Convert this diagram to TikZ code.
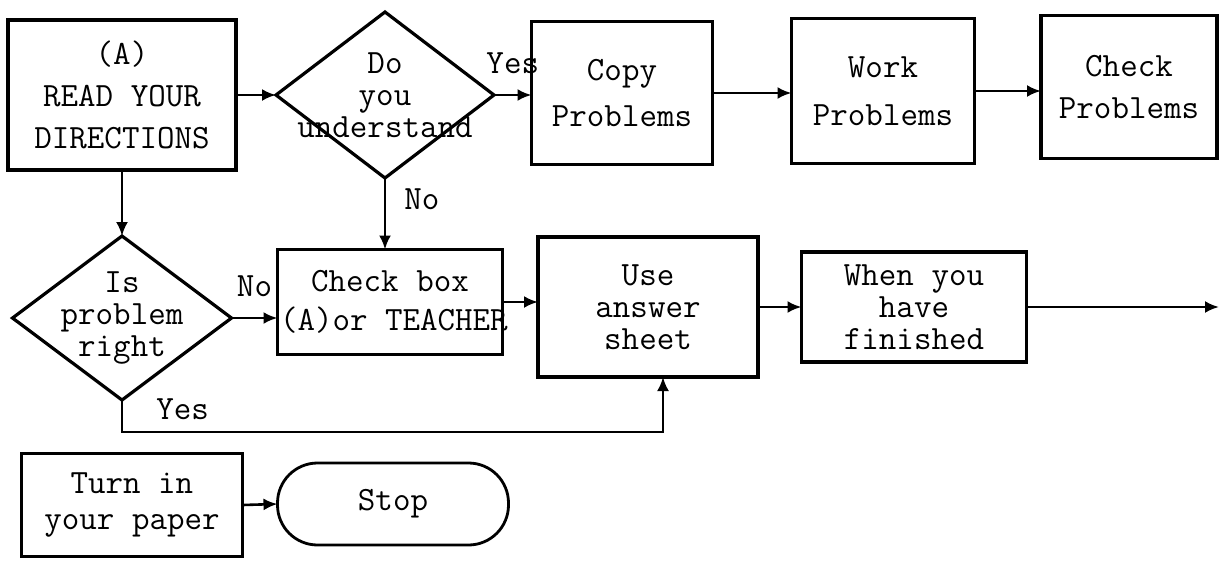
\documentclass[tikz,border=0pt]{standalone}
\usepackage{fontspec}
\usetikzlibrary{shapes.geometric,arrows.meta,positioning}

\begin{document}
\begin{tikzpicture}[x=1pt,y=-1pt,
 every node/.style={outer sep=0pt,font=\ttfamily\fontsize{34}{32}\selectfont},
 box/.style={draw,line width=3.2pt,inner sep=0pt,align=center},
 decision/.style={draw,diamond,line width=3.2pt,inner sep=0pt},
 stopbox/.style={draw,line width=2.8pt,rounded corners=40pt,inner sep=0pt},
 flow/.style={-{Latex[length=14pt,width=12pt]},line width=2.6pt}]

 \useasboundingbox (0,0) rectangle (1221,560);

 % top row
 \node[box,minimum width=228pt,minimum height=150pt] (read) at (122,95) {(A)\\[10pt]READ YOUR\\[10pt]DIRECTIONS};
 \node[decision,minimum width=218pt,minimum height=166pt,
  label={[align=center]center:Do\\you\\understand}] (und) at (385,95) {};
 \node[box,minimum width=181pt,minimum height=143pt] (copy) at (622,93) {Copy\\[14pt]Problems};
 \node[box,minimum width=183pt,minimum height=145pt] (work) at (883,91) {Work\\[16pt]Problems};
 \node[box,minimum width=176pt,minimum height=143pt] (chkp) at (1129,87) {Check\\[10pt]Problems};

 % middle row
 \node[decision,minimum width=219pt,minimum height=164pt,
  label={[align=center]center:Is\\problem\\right}] (isok) at (122,318) {};
 \node[box,minimum width=225pt,minimum height=105pt] (chkbox) at (390,302) {Check box\\[7pt]\makebox[220pt][l]{(A)or TEACHER}};
 \node[box,minimum width=220pt,minimum height=140pt] (use) at (648,307) {Use\\answer\\sheet};
 \node[box,minimum width=225pt,minimum height=110pt] (when) at (914,307) {When you\\have\\finished};
 \coordinate (exit) at (1219,307);
 \coordinate (yesbend) at (663,432);

 % bottom row
 \node[box,minimum width=221pt,minimum height=103pt] (turn) at (132,505) {Turn in\\[4pt]your paper};
 \node[stopbox,minimum width=231pt,minimum height=82pt] (stop) at (393,504) {Stop};


\draw [flow] (read.east) -- (und.west);
\draw [flow] (und.east) -- (und.east -| copy.west) node[midway,above=18pt] (yes1) {Yes};
\draw [flow] (copy.east) -- (copy.east -| work.west);
\draw [flow] (work.east) -- (work.east -| chkp.west);

\draw [flow] (read.south) -- (isok.north);
\draw [flow] (und.south) -- (und.south |- chkbox.north) node[pos=0.3,right=16pt] (no1) {No};
\draw [flow] (isok.east) -- (isok.east -| chkbox.west) node[midway,above=18pt] (no2) {No};
\draw [flow] (chkbox.east) -- (chkbox.east -| use.west);
\draw [flow] (use.east) -- (when.west);
\draw [flow] (when.east) -- (exit);
\draw [flow] (isok.south) |- (yesbend) node[pos=0.556,above=9pt] (yes2) {Yes} -- (yesbend |- use.south);

\draw [flow] (turn.east) -- (stop.west);

\end{tikzpicture}
\end{document}
